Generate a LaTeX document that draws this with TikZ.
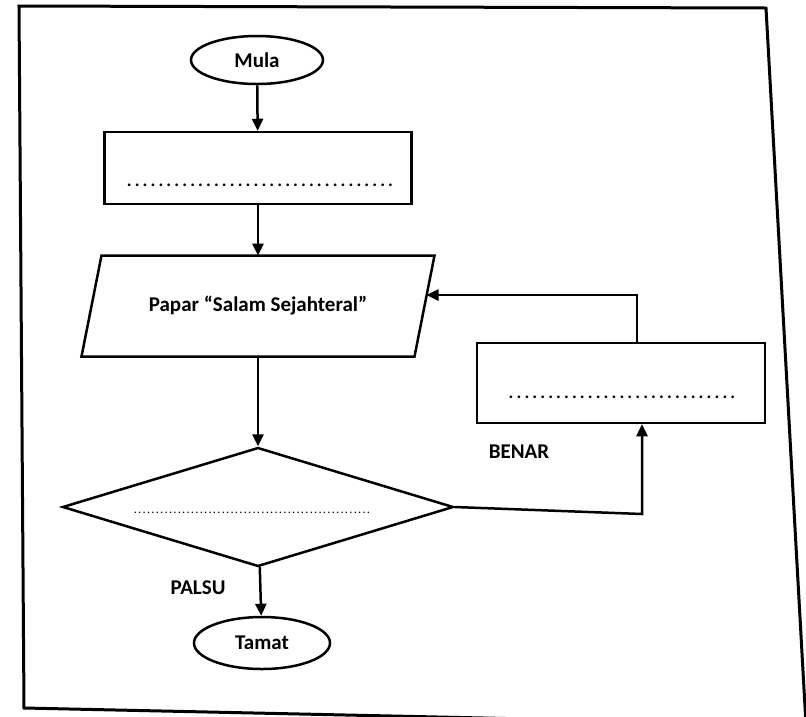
\documentclass[tikz,border=0pt]{standalone}
\usepackage{fontspec}
\setmainfont{Carlito}
\usepackage{tikz}
\usetikzlibrary{arrows.meta, positioning, shapes.geometric}
\tikzset{>={Triangle[length=12pt,width=11pt]}}
\tikzset{
	terminal/.style={draw, ellipse, inner sep=0pt},
	proses/.style={draw, rectangle, inner sep=0pt},
	papar/.style={rectangle, inner sep=0pt, outer sep=0pt},
	keputusan/.style={draw, diamond, inner sep=0pt},
	bingkai/.style={line width=3pt}
}
\newcommand{\isian}[2]{{\fontsize{#2}{#2}\selectfont\makebox[#1]{\dotfill}}}

\begin{document}
\begin{tikzpicture}[x=1pt, y=-1pt, line width=2.5pt, font=\bfseries\fontsize{21}{25}\selectfont]
		\useasboundingbox (0,0) rectangle (806,716);
		\begin{scope}
		\clip (0,0) rectangle (806,716);
		\draw[bingkai] (19,6) -- (766,8) -- (806,725) -- (24,708) -- cycle;
		\end{scope}
		\node[terminal, minimum width=132pt, minimum height=48pt] (mula) at (257,60) {Mula};
		\node[proses, minimum width=307pt, minimum height=72pt] (kotak1) at (258,168) {};
		\node (titik1) at (260,185) {\isian{275pt}{18}};
		\node[papar, minimum width=333pt, minimum height=101pt] (io) at (258,306) {Papar “Salam Sejahteral”};
		\draw ([xshift=10pt]io.north west) -- ([xshift=10pt]io.north east) -- ([xshift=-10pt]io.south east) -- ([xshift=-10pt]io.south west) -- cycle;
		\node[keputusan, minimum width=391pt, minimum height=119pt] (syarat) at (258,507) {};
		\node (titik2) at (252,513) {\isian{240pt}{10}};
		\node[terminal, minimum width=136pt, minimum height=52pt] (tamat) at (262,643) {Tamat};
		\node[proses, minimum width=288pt, minimum height=80pt] (kotak2) at (621,383) {};
		\node (titik3) at (622,397) {\isian{235pt}{18}};
		\node (benar) at (519,452) {BENAR};
		\node (palsu) at (198,588) {PALSU};
		\coordinate (sudut1) at (642,514);
		\coordinate (sudut2) at (637,295);
		\draw [->](mula)--(kotak1); \draw [->](kotak1)--(io);
		\draw [->](io)--(syarat); \draw [->](syarat)--(tamat);
		\draw [->](syarat.east)--(sudut1)--(sudut1 |- kotak2.south);
		\draw [->](sudut2 |- kotak2.north)--(sudut2)--([xshift=2pt]sudut2 -| io.east);
\end{tikzpicture}
\end{document}
